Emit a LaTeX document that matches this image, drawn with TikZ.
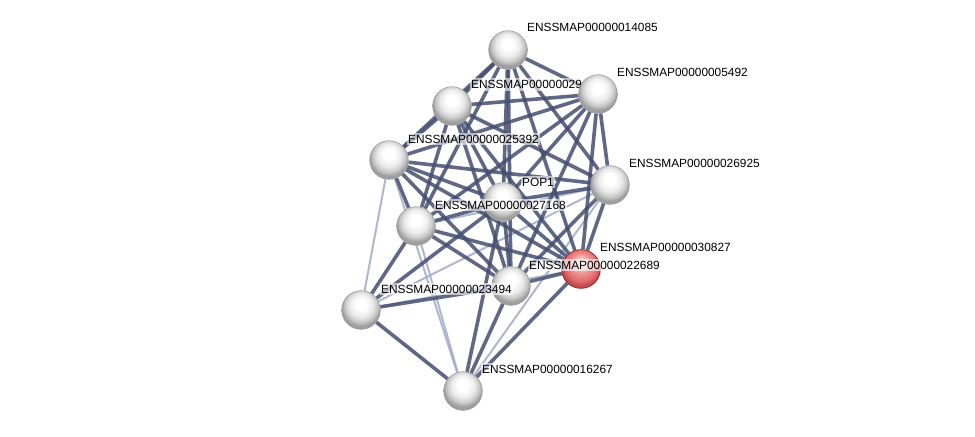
\documentclass[tikz,border=0pt]{standalone}
\usepackage{fontspec}
\setmainfont{Liberation Sans}
\definecolor{rb1}{RGB}{248,205,205}
\definecolor{rb2}{RGB}{236,140,140}
\definecolor{rb3}{RGB}{226,108,112}
\definecolor{rb4}{RGB}{200,75,78}
\pgfdeclareradialshading{strball}{\pgfpoint{0bp}{9bp}}{color(0bp)=(white); color(7bp)=(white); color(15bp)=(black!8); color(21bp)=(black!22); color(25bp)=(black!38); color(50bp)=(black!38)}
\pgfdeclareradialshading{redball}{\pgfpoint{0bp}{9bp}}{color(0bp)=(rb1); color(5bp)=(rb1); color(14bp)=(rb2); color(21bp)=(rb3); color(25bp)=(rb4); color(50bp)=(rb4)}
\definecolor{edgedark}{RGB}{68,78,112}
\definecolor{edgelight}{RGB}{160,170,198}
\definecolor{redrim}{RGB}{150,35,35}
\pgfdeclarelayer{bg}
\pgfsetlayers{bg,main}
\tikzset{
  ball/.style={circle, minimum size=29pt, inner sep=0pt, draw=black!40, line width=0.4pt, shading=strball},
  rball/.style={circle, minimum size=29pt, inner sep=0pt, draw=redrim, line width=0.6pt, shading=redball},
  lab/.style={anchor=base west, font=\fontsize{8.9}{10}\selectfont, fill=white, fill opacity=0.6, text opacity=1, inner xsep=1pt, inner ysep=1.5pt},
  hi/.style={draw=edgedark, line width=2.7pt, opacity=0.85},
  lo/.style={draw=edgelight, line width=1.5pt, opacity=0.85}
}
\begin{document}
\begin{tikzpicture}[x=0.75pt,y=-0.75pt]
\useasboundingbox (0,0) rectangle (975,436);
% nodes
\node[ball] (A) at (508,50) {};
\node[ball] (C) at (452,106) {};
\node[ball] (D) at (389,160) {};
\node[ball] (E) at (610,185) {};
\node[ball] (P) at (503,202) {};
\node[ball] (G) at (416,226) {};
\node[rball] (R) at (581,269) {};
\node[ball] (I) at (511,286) {};
\node[ball] (J) at (361,310) {};
\node[ball] (K) at (463,391) {};
% labels
\node[lab] (lA) at (525.5,31.7) {ENSSMAP00000014085};
\node[lab] (lC) at (469.5,88.5) {ENSSMAP00000029};
\node[lab] (lD) at (406.5,143) {ENSSMAP00000025392};
\node[lab] (lE) at (627.5,167) {ENSSMAP00000026925};
\node[lab] (lP) at (520.5,186) {POP1};
\node[lab] (lG) at (433.5,209) {ENSSMAP00000027168};
\node[lab] (lR) at (598.5,251) {ENSSMAP00000030827};
\node[lab] (lI) at (527.5,269) {ENSSMAP00000022689};
\node[lab] (lJ) at (379.5,293) {ENSSMAP00000023494};
\node[lab] (lK) at (480.5,373) {ENSSMAP00000016267};
\node[ball] (B) at (598,94) {};
\node[lab] (lB) at (615.5,76.5) {ENSSMAP00000005492};
% edges
\begin{pgfonlayer}{bg}
\draw[lo] (D) -- (J);
\draw[lo] (D) -- (K);
\draw[lo] (G) -- (K);
\draw[lo] (J) -- (E);
\draw[lo] (J) -- (R);
\draw[lo] (K) -- (E);
\draw[lo] (G) -- (E);
\draw[hi] (A) -- (B);
\draw[hi] (A) -- (C);
\draw[hi] (A) -- (D);
\draw[hi] (A) -- (E);
\draw[hi] (A) -- (P);
\draw[hi] (A) -- (G);
\draw[hi] (A) -- (I);
\draw[hi] (A) -- (R);
\draw[hi] (B) -- (C);
\draw[hi] (B) -- (D);
\draw[hi] (B) -- (E);
\draw[hi] (B) -- (P);
\draw[hi] (B) -- (G);
\draw[hi] (B) -- (I);
\draw[hi] (B) -- (R);
\draw[hi] (C) -- (D);
\draw[hi] (C) -- (E);
\draw[hi] (C) -- (P);
\draw[hi] (C) -- (G);
\draw[hi] (C) -- (I);
\draw[hi] (C) -- (R);
\draw[hi] (D) -- (E);
\draw[hi] (D) -- (P);
\draw[hi] (D) -- (G);
\draw[hi] (D) -- (I);
\draw[hi] (D) -- (R);
\draw[hi] (E) -- (P);
\draw[hi] (E) -- (R);
\draw[hi] (E) -- (I);
\draw[hi] (P) -- (G);
\draw[hi] (P) -- (I);
\draw[hi] (P) -- (R);
\draw[hi] (P) -- (J);
\draw[hi] (P) -- (K);
\draw[hi] (G) -- (I);
\draw[hi] (G) -- (R);
\draw[hi] (G) -- (J);
\draw[hi] (I) -- (R);
\draw[hi] (I) -- (J);
\draw[hi] (I) -- (K);
\draw[hi] (R) -- (K);
\draw[hi] (J) -- (K);
\end{pgfonlayer}
\end{tikzpicture}
\end{document}
